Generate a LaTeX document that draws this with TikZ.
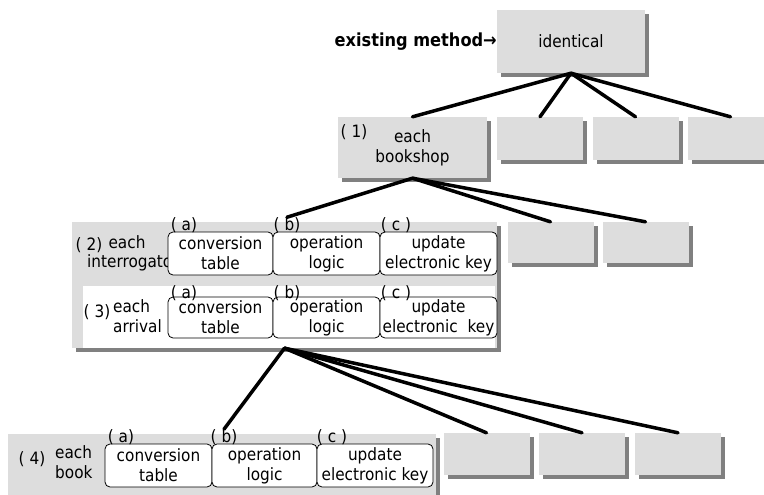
\documentclass[tikz,border=0pt]{standalone}
\usepackage{fontspec}
\setmainfont[FakeStretch=0.9]{DejaVu Sans}
\usetikzlibrary{shadows}
\definecolor{boxgray}{HTML}{DDDDDD}
\definecolor{shadegray}{HTML}{808080}

\begin{document}
\begin{tikzpicture}[x=1pt, y=-1pt,
  font=\fontsize{17}{20}\selectfont,
  gbox/.style={fill=boxgray, inner sep=0pt, align=center,
    drop shadow={shadow xshift=4pt, shadow yshift=-4pt, opacity=1, fill=shadegray}},
  small/.style={gbox, minimum width=86pt, minimum height=43pt},
  rbox/.style={draw, fill=white, rounded corners=5pt, line width=0.8pt,
    minimum height=43pt, inner sep=0pt, align=center},
  tag/.style={inner sep=0pt},
  link/.style={line width=3.5pt, line cap=round}]
% Fix the page to the size of the picture
\clip (0, 0) rectangle (764, 495);
% Top box and the label to its left
\node[gbox, minimum width=148pt, minimum height=63pt] (ident) at (571, 41.5) {identical};
\node[tag, anchor=east, font=\fontsize{18}{20}\selectfont\bfseries] (exist) at (497, 42) {existing method→};
% First row: each bookshop and three empty boxes
\node[gbox, minimum width=149pt, minimum height=61pt] (shop) at (412.5, 147.5) {each\\bookshop};
\node[tag] (num1) at (354, 132) {( 1)};
\node[small] (rowOneB) at (540, 138.5) {};
\node[small] (rowOneC) at (635.5, 138.5) {};
\node[small] (rowOneD) at (730.5, 138.5) {};
% Second row: big gray box, white part (3) inside, two empty boxes
\node[gbox, minimum width=425pt, minimum height=126pt] (grpTwo) at (284.5, 285) {};
\node[fill=white, inner sep=0pt, minimum width=412pt, minimum height=62pt] (grpThree) at (289, 317) {};
\node[small, minimum height=41pt] (rowTwoB) at (550.5, 242.5) {};
\node[small, minimum height=41pt] (rowTwoC) at (645.5, 242.5) {};
% Texts of (2), partly hidden by the first rounded box
\node[tag] (num2) at (89, 245) {( 2)};
\node[tag] (each2) at (127, 242) {each};
\node[tag, anchor=west] (who2) at (87, 263) {interrogator};
% Rounded boxes of (2)
\node[rbox, minimum width=105pt] (convTwo) at (220.5, 253.5) {conversion\\table};
\node[rbox, minimum width=107pt] (logicTwo) at (326.5, 253.5) {operation\\logic};
\node[rbox, minimum width=117pt] (keyTwo) at (438.5, 253.5) {update\\electronic key};
\node[tag] (aTwo) at (184, 225) {( a)};
\node[tag] (bTwo) at (287, 225) {( b)};
\node[tag] (cTwo) at (396, 225) {( c )};
% Texts of (3)
\node[tag] (num3) at (97, 312) {( 3)};
\node[tag, anchor=west, align=left] (who3) at (113, 316) {each\\arrival};
% Rounded boxes of (3), labels drawn over the top line
\node[rbox, minimum width=105pt, minimum height=41pt] (convThree) at (220.5, 317.5) {conversion\\table};
\node[rbox, minimum width=107pt, minimum height=41pt] (logicThree) at (326.5, 317.5) {operation\\logic};
\node[rbox, minimum width=117pt, minimum height=41pt] (keyThree) at (438.5, 317.5) {update\\electronic\ \ key};
\node[tag] (aThree) at (184, 293) {( a)};
\node[tag] (bThree) at (287, 293) {( b)};
\node[tag] (cThree) at (396, 293) {( c )};
% Last row: each book and three empty boxes
\node[gbox, minimum width=428pt, minimum height=66pt] (grpFour) at (222, 467) {};
\node[small, minimum height=42pt] (rowFourB) at (486.5, 454) {};
\node[small, minimum height=42pt] (rowFourC) at (582, 454) {};
\node[small, minimum height=42pt] (rowFourD) at (678, 454) {};
\node[tag] (num4) at (32, 459) {( 4)};
\node[tag, anchor=west, align=left] (who4) at (55, 462) {each\\book};
\node[rbox, minimum width=107pt] (convFour) at (158.5, 465.5) {conversion\\table};
\node[rbox, minimum width=105pt] (logicFour) at (264.5, 465.5) {operation\\logic};
\node[rbox, minimum width=116pt] (keyFour) at (375, 465.5) {update\\electronic key};
\node[tag] (aFour) at (121, 437) {( a)};
\node[tag] (bFour) at (224, 437) {( b)};
\node[tag] (cFour) at (332, 437) {( c )};
% Thick lines from each box to the row below
\draw[link] (ident.south) -- (shop.north);
\draw[link] (ident.south) -- (rowOneB.north);
\draw[link] (ident.south) -- (rowOneC.north);
\draw[link] (ident.south) -- (rowOneD.north);
\draw[link] (shop.south) -- (bTwo.north);
\draw[link] (shop.south) -- (rowTwoB.north);
\draw[link] (shop.south) -- (rowTwoC.north);
\draw[link] (grpTwo.south) -- (bFour.north);
\draw[link] (grpTwo.south) -- (rowFourB.north);
\draw[link] (grpTwo.south) -- (rowFourC.north);
\draw[link] (grpTwo.south) -- (rowFourD.north);
\end{tikzpicture}
\end{document}
